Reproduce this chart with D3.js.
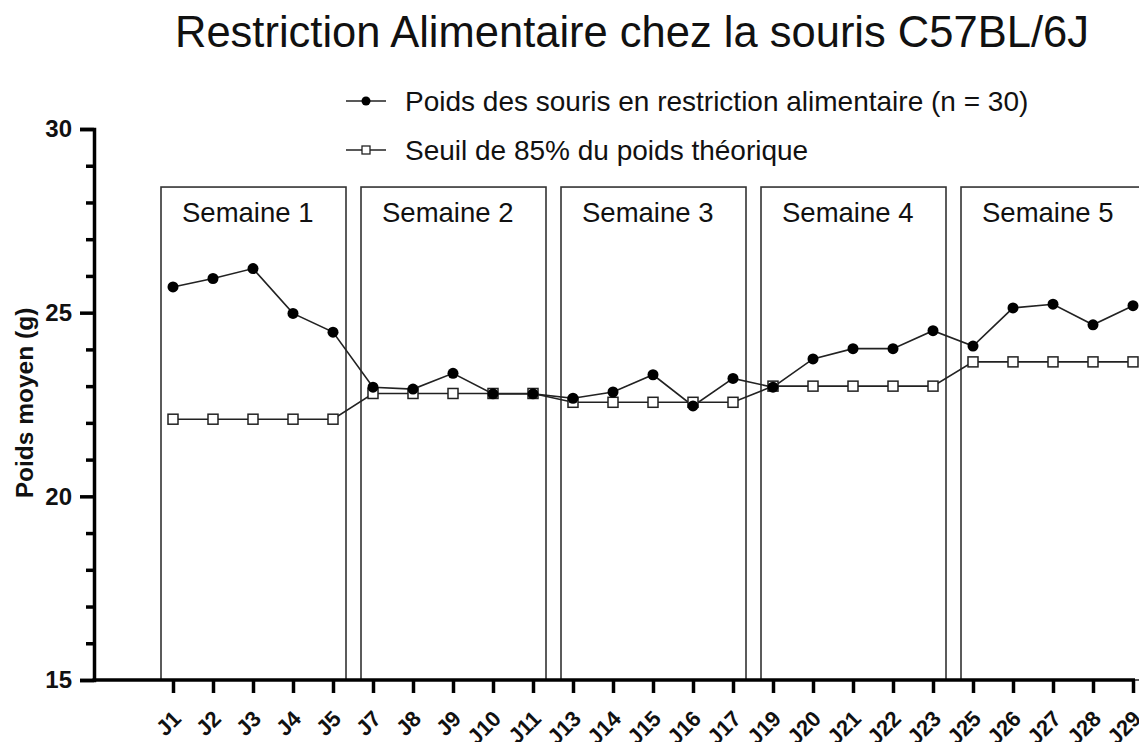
<!DOCTYPE html>
<html>
<head>
<meta charset="utf-8">
<script src="https://cdn.jsdelivr.net/npm/d3@7"></script>
<style>
  body { margin: 0; background: #fff; }
  svg { font-family: "Liberation Sans", Arial, sans-serif; }
</style>
</head>
<body>
<div id="chart"></div>
<script>
// data
var days = ['J1','J2','J3','J4','J5','J7','J8','J9','J10','J11','J13','J14','J15','J16','J17',
            'J19','J20','J21','J22','J23','J25','J26','J27','J28','J29'];
var poids = [25.70, 25.93, 26.20, 24.98, 24.47, 22.97, 22.92, 23.35, 22.79, 22.79, 22.67, 22.84, 23.31, 22.46, 23.21,
             22.97, 23.74, 24.02, 24.02, 24.51, 24.09, 25.13, 25.23, 24.67, 25.19];
var seuil = [22.1, 22.1, 22.1, 22.1, 22.1, 22.8, 22.8, 22.8, 22.8, 22.8, 22.56, 22.56, 22.56, 22.56, 22.56,
             23.0, 23.0, 23.0, 23.0, 23.0, 23.66, 23.66, 23.66, 23.66, 23.66];
var semaines = ['Semaine 1','Semaine 2','Semaine 3','Semaine 4','Semaine 5'];
var semaineDebut = ['J1','J7','J13','J19','J25'];
var semaineFin = ['J5','J11','J17','J23','J29'];
var yMajor = [15, 20, 25, 30];
var yMinor = [16,17,18,19,21,22,23,24,26,27,28,29];
var legendLabels = ['Poids des souris en restriction alimentaire (n = 30)', 'Seuil de 85% du poids théorique'];

var width = 1139, height = 742;
var axisX = 94;
var boxTop = 28.42;

var svg = d3.select('#chart').append('svg')
    .attr('width', width)
    .attr('height', height);

var x = d3.scalePoint().domain(days).range([173, 1133]);
var y = d3.scaleLinear().domain([15, 30]).range([680, 129]);

// title
svg.append('text')
    .attr('x', 175)
    .attr('y', 47)
    .attr('font-size', 43.5)
    .attr('fill', '#111')
    .text('Restriction Alimentaire chez la souris C57BL/6J');

// week boxes
var weekG = svg.append('g');
semaines.forEach(function(s, i){
    var x0 = x(semaineDebut[i]) - 12;
    var x1 = x(semaineFin[i]) + 13;
    weekG.append('rect')
        .attr('x', x0)
        .attr('y', y(boxTop))
        .attr('width', x1 - x0)
        .attr('height', y(15) - y(boxTop))
        .attr('fill', 'none')
        .attr('stroke', '#333')
        .attr('stroke-width', 1.6);
    weekG.append('text')
        .attr('x', x0 + 21)
        .attr('y', 222)
        .attr('font-size', 27.5)
        .attr('fill', '#111')
        .text(s);
});

// y axis
var yAxis = d3.axisLeft(y).tickValues(yMajor).tickSize(14).tickPadding(8);
var yg = svg.append('g')
    .attr('transform', 'translate(' + axisX + ',0)')
    .call(yAxis);
yg.select('.domain').attr('stroke-width', 3.5).attr('stroke', '#000');
yg.selectAll('.tick line').attr('stroke-width', 3.5);
yg.selectAll('.tick text')
    .attr('font-size', 24)
    .attr('font-weight', 'bold')
    .attr('font-family', '"Liberation Sans", Arial, sans-serif')
    .attr('fill', '#111');

var yMinorAxis = d3.axisLeft(y).tickValues(yMinor).tickSize(8).tickFormat('');
var ymg = svg.append('g')
    .attr('transform', 'translate(' + axisX + ',0)')
    .call(yMinorAxis);
ymg.select('.domain').remove();
ymg.selectAll('.tick line').attr('stroke-width', 3.5);

svg.append('text')
    .attr('transform', 'translate(33,' + 403 + ') rotate(-90)')
    .attr('text-anchor', 'middle')
    .attr('font-size', 24.5)
    .attr('font-weight', 'bold')
    .attr('fill', '#111')
    .text('Poids moyen (g)');

// x axis
var xAxis = d3.axisBottom(x).tickSize(13);
var xg = svg.append('g')
    .attr('transform', 'translate(0,' + y(15) + ')')
    .call(xAxis);
xg.select('.domain').remove();
xg.selectAll('.tick line').attr('stroke-width', 3.5);
xg.selectAll('.tick text')
    .attr('x', 0).attr('y', 0).attr('dy', 0)
    .attr('text-anchor', 'end')
    .attr('transform', 'translate(9,40) rotate(-45)')
    .attr('font-size', 22)
    .attr('font-weight', 'bold')
    .attr('font-family', '"Liberation Sans", Arial, sans-serif')
    .attr('fill', '#111');
svg.append('line')
    .attr('x1', axisX - 1.5).attr('x2', x('J29') + 2)
    .attr('y1', y(15)).attr('y2', y(15))
    .attr('stroke', '#000')
    .attr('stroke-width', 3.5);

// lines
var line = d3.line().x(function(d){ return x(d[0]); }).y(function(d){ return y(d[1]); });
svg.append('path')
    .datum(days.map(function(d, i){ return [d, seuil[i]]; }))
    .attr('d', line)
    .attr('fill', 'none')
    .attr('stroke', '#222')
    .attr('stroke-width', 1.6);
svg.append('path')
    .datum(days.map(function(d, i){ return [d, poids[i]]; }))
    .attr('d', line)
    .attr('fill', 'none')
    .attr('stroke', '#222')
    .attr('stroke-width', 1.6);

svg.selectAll('rect.sq')
    .data(seuil)
    .enter()
    .append('rect')
    .attr('class', 'sq')
    .attr('x', function(d, i){ return x(days[i]) - 5; })
    .attr('y', function(d){ return y(d) - 5; })
    .attr('width', 10).attr('height', 10)
    .attr('fill', '#fff')
    .attr('stroke', '#222')
    .attr('stroke-width', 1.5);

svg.selectAll('circle.dot')
    .data(poids)
    .enter()
    .append('circle')
    .attr('class', 'dot')
    .attr('cx', function(d, i){ return x(days[i]); })
    .attr('cy', function(d){ return y(d); })
    .attr('r', 5.5)
    .attr('fill', '#000');

// legend
var lg = svg.append('g');
[101, 150].forEach(function(ly, i){
    lg.append('line')
        .attr('x1', 346).attr('x2', 386)
        .attr('y1', ly).attr('y2', ly)
        .attr('stroke', '#222').attr('stroke-width', 1.6);
    if (i == 0) {
        lg.append('circle').attr('cx', 366).attr('cy', ly).attr('r', 4.5).attr('fill', '#000');
    } else {
        lg.append('rect').attr('x', 362).attr('y', ly - 4).attr('width', 8).attr('height', 8)
            .attr('fill', '#fff').attr('stroke', '#222').attr('stroke-width', 1.3);
    }
    lg.append('text')
        .attr('x', 405)
        .attr('y', ly + 10)
        .attr('font-size', 28)
        .attr('fill', '#111')
        .text(legendLabels[i]);
});
</script>
</body>
</html>
